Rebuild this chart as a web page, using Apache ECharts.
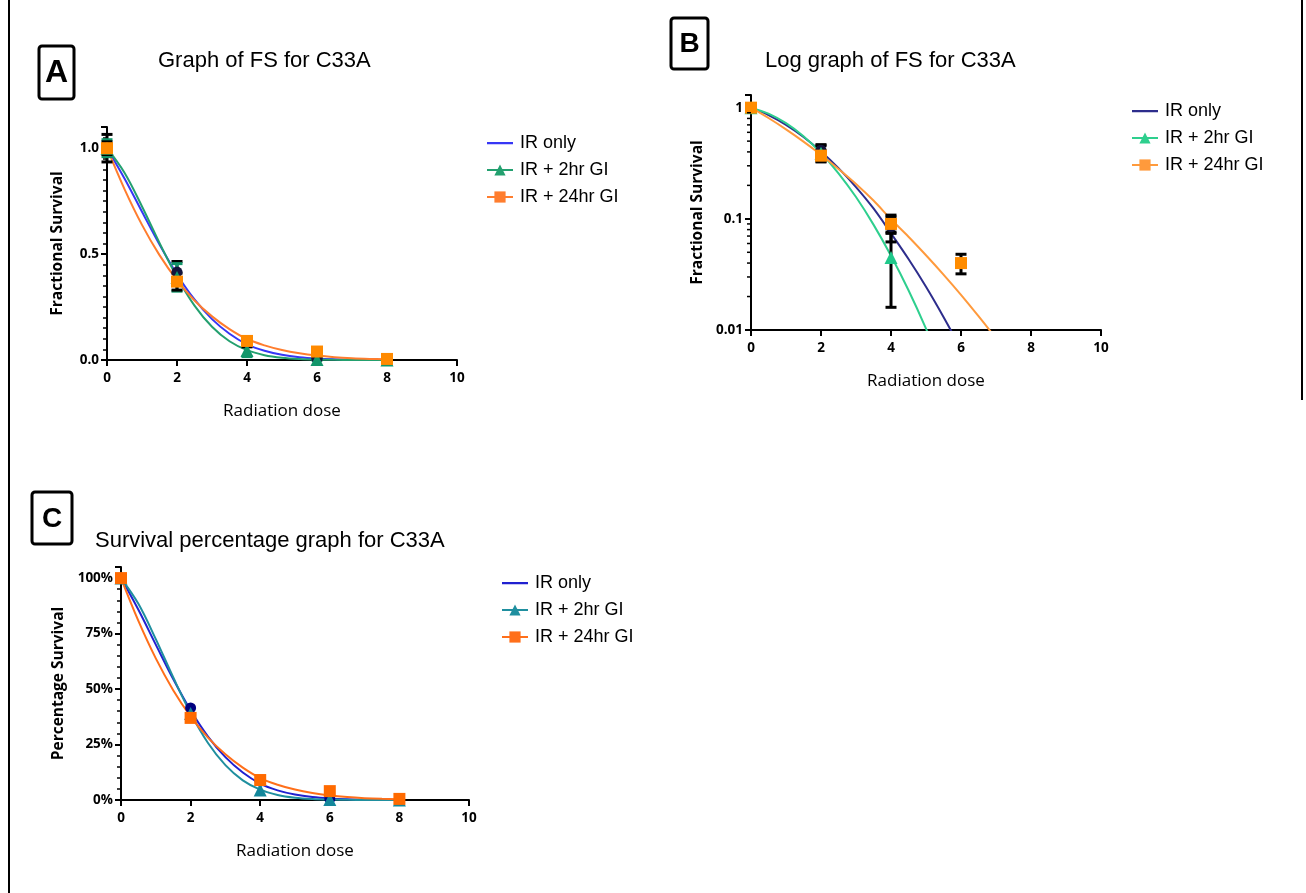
<!DOCTYPE html>
<html><head><meta charset="utf-8">
<script src="https://cdn.jsdelivr.net/npm/echarts@6/dist/echarts.min.js"></script>
<style>html,body{margin:0;padding:0;background:#fff}#main{width:1306px;height:893px}</style>
</head><body><div id="main"></div>
<script>
// ---- data (fractional survival) ----
const doses = [0, 2, 4, 6, 8];
const irOnly = [1.0, 0.415, 0.085, 0.006, 0.0005];
const irOnlyErr = [0.065, 0.05, 0.023, 0.003, 0];
const gi2 = [1.0, 0.39, 0.045, 0.002, 0.0003];
const gi2Err = [0.04, 0.065, 0.029, 0.002, 0];
const gi24 = [1.0, 0.37, 0.09, 0.04, 0.005];
const gi24Err = [0.03, 0.04, 0.014, 0.008, 0.001];

// ---- fitted curves ----
const fitDoses = [0, 0.5, 1, 1.5, 2, 2.5, 3, 3.5, 4, 4.5, 5, 5.5, 6, 6.5, 7, 7.5, 8];
const fitIrOnly = [1, 0.857, 0.70, 0.545, 0.404, 0.286, 0.193, 0.124, 0.074, 0.0435, 0.0245, 0.0131, 0.0067, 0.0032, 0.0015, 0.00066, 0.00028];
const fitGi2 = [1, 0.884, 0.725, 0.553, 0.391, 0.257, 0.157, 0.0887, 0.0466, 0.0228, 0.0103, 0.0043, 0.0017, 0.00062, 0.00021, 0.00009, 0.00003];
const fitGi24 = [1, 0.807, 0.638, 0.495, 0.377, 0.281, 0.206, 0.146, 0.099, 0.069, 0.047, 0.0315, 0.0207, 0.0133, 0.0084, 0.0052, 0.0031];

// ---- tick labels ----
const logMajorTicks = [1, 0.1, 0.01];
const logMinorTicks = [0.02,0.03,0.04,0.05,0.06,0.07,0.08,0.09,0.2,0.3,0.4,0.5,0.6,0.7,0.8,0.9];

const seriesNames = ['IR only', 'IR + 2hr GI', 'IR + 24hr GI'];
const titles = ['Graph of FS for C33A', 'Log graph of FS for C33A', 'Survival percentage graph for C33A'];
const panelLetters = ['A', 'B', 'C'];

const TICK_FONT = "'Open Sans', 'DejaVu Sans', sans-serif";
const TEXT_FONT = "'Liberation Sans', Arial, sans-serif";

const panels = [
  { key: 'A', lineColors: ['#3636f5', '#23a06f', '#ff7d2e'], ptColors: ['#14143c', '#12966a', '#ff8a00'],
    errColors: ['#000', '#12966a', '#000'], errors: true },
  { key: 'B', lineColors: ['#2d2d8c', '#2ecf8e', '#ff9a3c'], ptColors: ['#14143c', '#1fc88a', '#ff8c00'],
    errColors: ['#000', '#000', '#000'], errors: true, log: true },
  { key: 'C', lineColors: ['#2020d0', '#1f8f9f', '#ff6f1a'], ptColors: ['#000080', '#13879b', '#ff6a00'],
    errColors: ['#000', '#000', '#000'], errors: false }
];

const grids = [
  { left: 107, top: 127, width: 350, height: 233 },
  { left: 751, top: 95, width: 350, height: 235 },
  { left: 121, top: 567, width: 348, height: 233 }
];

const axisLineStyle = { color: '#000', width: 2 };
const labelStyle = { color: '#000', fontFamily: TICK_FONT, fontWeight: 'bold', fontSize: 13.5 };
const nameStyle = { color: '#000', fontFamily: TICK_FONT, fontSize: 17 };
const yNameStyle = { color: '#000', fontFamily: TICK_FONT, fontSize: 15.5, fontWeight: 'bold' };

function xAxis(i) {
  return {
    gridIndex: i, type: 'value', min: 0, max: 10, interval: 2,
    axisLine: { show: true, onZero: false, lineStyle: axisLineStyle },
    axisTick: { show: true, length: 6, lineStyle: { color: '#000', width: 2 } },
    splitLine: { show: false },
    axisLabel: Object.assign({ margin: 11 }, labelStyle),
    name: 'Radiation dose', nameLocation: 'middle', nameGap: 43, nameTextStyle: nameStyle
  };
}

const yAxes = [
  {
    gridIndex: 0, type: 'value', min: 0, max: 1.1, interval: 0.5,
    axisLine: { show: true, onZero: false, lineStyle: axisLineStyle },
    axisTick: { show: true, length: 6, lineStyle: { color: '#000', width: 2 } },
    minorTick: { show: true, splitNumber: 10, length: 4, lineStyle: { color: '#000', width: 1.5 } },
    splitLine: { show: false }, minorSplitLine: { show: false },
    axisLabel: Object.assign({ margin: 8, showMaxLabel: false, formatter: v => v.toFixed(1) }, labelStyle),
    name: 'Fractional Survival', nameLocation: 'middle', nameGap: 41, nameTextStyle: yNameStyle
  },
  {
    gridIndex: 1, type: 'log', logBase: 10, min: 0.01, max: 1.3,
    axisLine: { show: true, onZero: false, lineStyle: axisLineStyle },
    axisTick: { show: true, length: 6, lineStyle: { color: '#000', width: 2 } },
    splitLine: { show: false },
    axisLabel: Object.assign({ margin: 8, formatter: v => {
      const t = logMajorTicks.find(m => Math.abs(v - m) / m < 1e-6);
      return t === undefined ? '' : String(t);
    } }, labelStyle),
    name: 'Fractional Survival', nameLocation: 'middle', nameGap: 45, nameTextStyle: yNameStyle
  },
  {
    gridIndex: 2, type: 'value', min: 0, max: 1.05, interval: 0.25,
    axisLine: { show: true, onZero: false, lineStyle: axisLineStyle },
    axisTick: { show: true, length: 6, lineStyle: { color: '#000', width: 2 } },
    minorTick: { show: true, splitNumber: 5, length: 4, lineStyle: { color: '#000', width: 1.5 } },
    splitLine: { show: false }, minorSplitLine: { show: false },
    axisLabel: Object.assign({ margin: 8, showMaxLabel: false, formatter: v => Math.round(v * 100) + '%' }, labelStyle),
    name: 'Percentage Survival', nameLocation: 'middle', nameGap: 54, nameTextStyle: yNameStyle
  }
];

const symbols = ['circle', 'triangle', 'rect'];
const sizes = [11, 13, 12];
const pointSets = [irOnly, gi2, gi24];
const errSets = [irOnlyErr, gi2Err, gi24Err];
const fitSets = [fitIrOnly, fitGi2, fitGi24];

const series = [];
const legends = [];
const lineIcon = 'path://M0,0h0.05v0.05h-0.05z M0,6h26v2.2h-26z M0,14h0.05v-0.05h-0.05z';
const legendPos = [{ left: 481, top: 129 }, { left: 1126, top: 97 }, { left: 496, top: 569 }];

panels.forEach((p, gi) => {
  const isLog = !!p.log;
  const minY = isLog ? 0.01 : -Infinity;
  // fitted curves
  for (let s = 0; s < 3; s++) {
    series.push({
      name: p.key + '|' + seriesNames[s], type: 'line', xAxisIndex: gi, yAxisIndex: gi,
      data: fitDoses.map((d, i) => [d, fitSets[s][i]]),
      smooth: 0.35, symbol: s === 0 ? 'none' : symbols[s], showSymbol: false,
      lineStyle: { color: p.lineColors[s], width: 2 }, itemStyle: { color: p.lineColors[s] },
      z: 2, silent: true, clip: true
    });
  }
  // error bars
  if (p.errors) {
    for (let s = 0; s < 3; s++) {
      const color = p.errColors[s];
      series.push({
        name: p.key + '|err' + s, type: 'custom', xAxisIndex: gi, yAxisIndex: gi, z: 3, silent: true,
        data: doses.map((d, i) => [d, pointSets[s][i] - errSets[s][i], pointSets[s][i] + errSets[s][i]]),
        renderItem: (params, api) => {
          const x = api.value(0), lo = api.value(1), hi = api.value(2);
          if (!(hi > lo) || hi < minY) return null;
          const loC = Math.max(lo, minY);
          const top = api.coord([x, hi]);
          const bot = api.coord([x, loC]);
          const hw = 5.5;
          const st = { stroke: color, lineWidth: 3 };
          const children = [
            { type: 'line', shape: { x1: top[0], y1: top[1], x2: bot[0], y2: bot[1] }, style: st },
            { type: 'line', shape: { x1: top[0] - hw, y1: top[1], x2: top[0] + hw, y2: top[1] }, style: st }
          ];
          if (lo >= minY) children.push({ type: 'line', shape: { x1: bot[0] - hw, y1: bot[1], x2: bot[0] + hw, y2: bot[1] }, style: st });
          return { type: 'group', children };
        }
      });
    }
  }
  // data points
  for (let s = 0; s < 3; s++) {
    const pts = doses.map((d, i) => [d, pointSets[s][i]]).filter(v => v[1] >= minY);
    series.push({
      name: p.key + '|pts' + s, type: 'scatter', xAxisIndex: gi, yAxisIndex: gi,
      data: pts, symbol: symbols[s], symbolSize: sizes[s],
      itemStyle: { color: p.ptColors[s], opacity: 1 }, z: 4 + (s === 2 ? 1 : 0), silent: true, clip: true
    });
  }
  legends.push({
    orient: 'vertical', left: legendPos[gi].left, top: legendPos[gi].top,
    itemWidth: 26, itemHeight: 14, itemGap: 9, selectedMode: false,
    data: [{ name: p.key + '|' + seriesNames[0], icon: lineIcon }, p.key + '|' + seriesNames[1], p.key + '|' + seriesNames[2]],
    formatter: n => n.split('|')[1],
    textStyle: { fontFamily: TEXT_FONT, fontSize: 18, color: '#000', padding: [0, 0, 0, 2] }
  });
});

// log minor ticks for panel B
series.push({
  name: 'B|minor', type: 'custom', xAxisIndex: 1, yAxisIndex: 1, silent: true, z: 6,
  data: logMinorTicks.map(v => [0, v]),
  renderItem: (params, api) => {
    const c = api.coord([api.value(0), api.value(1)]);
    return { type: 'line', shape: { x1: c[0] - 4, y1: c[1], x2: c[0], y2: c[1] }, style: { stroke: '#000', lineWidth: 1.5 } };
  }
});

const titlePos = [{ left: 158, top: 50 }, { left: 765, top: 50 }, { left: 95, top: 530 }];
const boxes = [
  { x: 39, y: 46, w: 35, h: 53, fs: 32 },
  { x: 671, y: 18, w: 37, h: 51, fs: 28 },
  { x: 32, y: 492, w: 40, h: 52, fs: 28 }
];

const graphics = [
  { type: 'line', shape: { x1: 9, y1: 0, x2: 9, y2: 893 }, style: { stroke: '#000', lineWidth: 2 } },
  { type: 'line', shape: { x1: 1302, y1: 0, x2: 1302, y2: 400 }, style: { stroke: '#000', lineWidth: 2 } }
];
boxes.forEach((b, i) => {
  graphics.push({ type: 'rect', shape: { x: b.x, y: b.y, width: b.w, height: b.h, r: 3 }, style: { fill: '#fff', stroke: '#000', lineWidth: 3 } });
  graphics.push({ type: 'text', x: b.x + b.w / 2, y: b.y + b.h / 2 + 1,
    style: { text: panelLetters[i], fill: '#000', font: 'bold ' + b.fs + 'px ' + TEXT_FONT, align: 'center', verticalAlign: 'middle' } });
});

const chart = echarts.init(document.getElementById('main'), null, { renderer: 'canvas' });
chart.setOption({
  backgroundColor: '#fff',
  animation: false,
  title: titles.map((t, i) => ({ text: t, left: titlePos[i].left, top: titlePos[i].top, padding: 0,
    textStyle: { fontFamily: TEXT_FONT, fontSize: 22, fontWeight: 'normal', color: '#000' } })),
  grid: grids.map(g => Object.assign({ containLabel: false, outerBoundsMode: 'none' }, g)),
  xAxis: [xAxis(0), xAxis(1), xAxis(2)],
  yAxis: yAxes,
  legend: legends,
  series,
  graphic: graphics
});
</script></body></html>
